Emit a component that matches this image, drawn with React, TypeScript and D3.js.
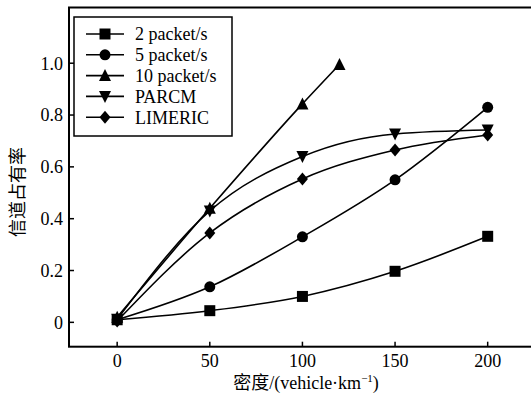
import { useEffect, useRef } from "react"
import * as d3 from "d3"

const densities = [0, 50, 100, 150, 200]
const rate2 = [0.01, 0.045, 0.1, 0.197, 0.332]
const rate5 = [0.01, 0.137, 0.33, 0.55, 0.83]
const rate10X = [0, 50, 100, 120]
const rate10 = [0.02, 0.44, 0.843, 0.995]
const parcm = [0.012, 0.43, 0.64, 0.727, 0.742]
const limeric = [0.005, 0.345, 0.553, 0.665, 0.723]
const xTicks = [0, 50, 100, 150, 200]
const yTicks = [0, 0.2, 0.4, 0.6, 0.8, 1.0]

const series = [
  { name: "2 packet/s", xs: densities, ys: rate2, marker: "square" },
  { name: "5 packet/s", xs: densities, ys: rate5, marker: "circle" },
  { name: "10 packet/s", xs: rate10X, ys: rate10, marker: "triangle" },
  { name: "PARCM", xs: densities, ys: parcm, marker: "down" },
  { name: "LIMERIC", xs: densities, ys: limeric, marker: "diamond" },
]

const W = 531
const H = 398
const FONT = "Liberation Serif, DejaVu Serif, serif"

function markerPath(kind: string) {
  const s = 5.5
  if (kind === "square") return `M${-s},${-s}H${s}V${s}H${-s}Z`
  if (kind === "triangle") return `M0,${-s - 1}L${s + 0.5},${s}L${-s - 0.5},${s}Z`
  if (kind === "down") return `M0,${s + 1}L${s + 0.5},${-s}L${-s - 0.5},${-s}Z`
  if (kind === "diamond") return `M0,${-s - 1}L${s},0L0,${s + 1}L${-s},0Z`
  return d3.symbol(d3.symbolCircle, Math.PI * 5.5 * 5.5)() as string
}

export default function App() {
  const ref = useRef<SVGSVGElement>(null)

  useEffect(() => {
    if (!ref.current) return
    const svg = d3.select(ref.current)
    svg.selectAll("*").remove()

    const left = 69
    const top = 7.5
    const right = 534
    const bottom = 346.7

    const x = d3.scaleLinear().domain([-26, 225]).range([left, right])
    const y = d3.scaleLinear().domain([-0.094, 1.215]).range([bottom, top])

    svg.append("rect").attr("width", W).attr("height", H).attr("fill", "#fff")

    // data lines
    const line = d3
      .line<[number, number]>()
      .x((d) => x(d[0]))
      .y((d) => y(d[1]))
      .curve(d3.curveMonotoneX)

    series.forEach((s) => {
      const pts = s.xs.map((v, i) => [v, s.ys[i]] as [number, number])
      svg
        .append("path")
        .attr("d", line(pts))
        .attr("fill", "none")
        .attr("stroke", "#000")
        .attr("stroke-width", 1.6)
      svg
        .selectAll(null)
        .data(pts)
        .enter()
        .append("path")
        .attr("d", markerPath(s.marker))
        .attr("transform", (d) => `translate(${x(d[0])},${y(d[1])})`)
        .attr("fill", "#000")
    })

    // frame
    svg
      .append("rect")
      .attr("x", left)
      .attr("y", top)
      .attr("width", right - left)
      .attr("height", bottom - top)
      .attr("fill", "none")
      .attr("stroke", "#000")
      .attr("stroke-width", 2)

    // x ticks
    const gx = svg.append("g")
    xTicks.forEach((t) => {
      gx.append("line")
        .attr("x1", x(t))
        .attr("x2", x(t))
        .attr("y1", bottom)
        .attr("y2", bottom - 5)
        .attr("stroke", "#000")
        .attr("stroke-width", 1.5)
      gx.append("text")
        .attr("x", x(t))
        .attr("y", bottom + 20)
        .attr("text-anchor", "middle")
        .attr("font-family", FONT)
        .attr("font-size", 18)
        .text(String(t))
    })

    // y ticks
    const gy = svg.append("g")
    yTicks.forEach((t) => {
      gy.append("line")
        .attr("x1", left)
        .attr("x2", left + 5)
        .attr("y1", y(t))
        .attr("y2", y(t))
        .attr("stroke", "#000")
        .attr("stroke-width", 1.5)
      gy.append("text")
        .attr("x", left - 6)
        .attr("y", y(t))
        .attr("dy", "0.35em")
        .attr("text-anchor", "end")
        .attr("font-family", FONT)
        .attr("font-size", 18)
        .text(t === 0 ? "0" : t.toFixed(1))
    })

    // axis titles
    svg
      .append("text")
      .attr("transform", `translate(24,192) rotate(-90)`)
      .attr("text-anchor", "middle")
      .attr("font-family", "Noto Sans CJK SC, sans-serif")
      .attr("font-size", 18)
      .text("信道占有率")

    const xt = svg
      .append("text")
      .attr("x", 306)
      .attr("y", 389)
      .attr("text-anchor", "middle")
      .attr("font-family", FONT)
      .attr("font-size", 18)
    xt.append("tspan").attr("font-family", "Noto Sans CJK SC, sans-serif").text("密度")
    xt.append("tspan").text("/(vehicle·km")
    xt.append("tspan").attr("font-size", 11).attr("dy", -7).text("−1")
    xt.append("tspan").attr("dy", 7).text(")")

    // legend
    const lg = svg.append("g")
    lg.append("rect")
      .attr("x", 74)
      .attr("y", 17)
      .attr("width", 158)
      .attr("height", 119)
      .attr("fill", "#fff")
      .attr("stroke", "#000")
      .attr("stroke-width", 1.5)
    series.forEach((s, i) => {
      const cy = 34 + i * 20.8
      lg.append("line")
        .attr("x1", 86)
        .attr("x2", 124)
        .attr("y1", cy)
        .attr("y2", cy)
        .attr("stroke", "#000")
        .attr("stroke-width", 1.6)
      lg.append("path")
        .attr("d", markerPath(s.marker))
        .attr("transform", `translate(105,${cy})`)
        .attr("fill", "#000")
      lg.append("text")
        .attr("x", 135)
        .attr("y", cy)
        .attr("dy", "0.35em")
        .attr("font-family", FONT)
        .attr("font-size", 18)
        .text(s.name)
    })
  }, [])

  return (
    <svg
      ref={ref}
      width={W}
      height={H}
      style={{ position: "absolute", left: 0, top: 0, display: "block" }}
    />
  )
}
